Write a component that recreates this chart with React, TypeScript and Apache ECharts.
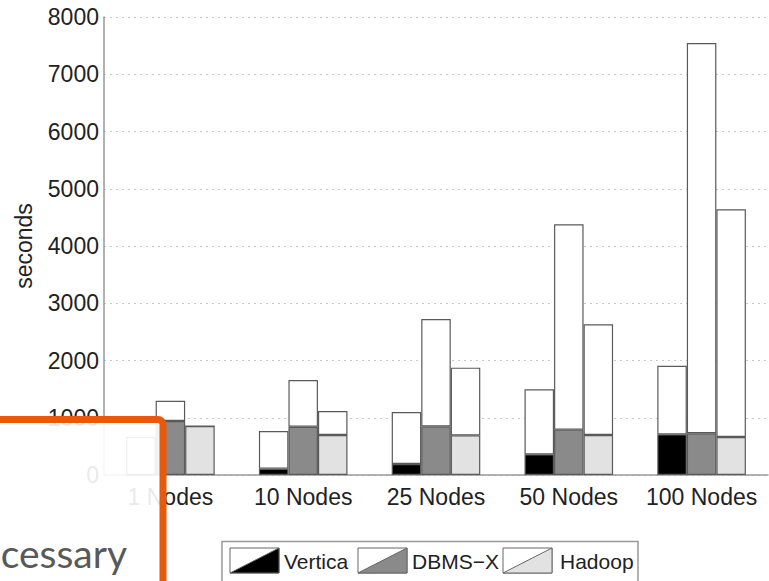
import React, { useEffect, useRef } from "react";
import * as echarts from "echarts";

const categories = ["1 Nodes", "10 Nodes", "25 Nodes", "50 Nodes", "100 Nodes"];
const verticaBase = [0, 110, 192, 361, 710];
const verticaTotal = [669, 768, 1100, 1497, 1909];
const dbmsBase = [943, 844, 850, 792, 728];
const dbmsTotal = [1298, 1659, 2725, 4379, 7546];
const hadoopBase = [856, 699, 693, 699, 664];
const hadoopTotal = [856, 1118, 1875, 2632, 4641];
const yTicks = { min: 0, max: 8000, interval: 1000 };
const legendNames = ["Vertica", "DBMS\u2212X", "Hadoop"];
const systemColors = ["#000000", "#8a8a8a", "#e2e2e2"];

const FONT = "'Liberation Sans', Arial, Helvetica, sans-serif";
const BORDER = "#5a5a5a";

export default function App() {
  const ref = useRef<HTMLDivElement>(null);
  useEffect(() => {
    if (!ref.current) return;
    const chart = echarts.init(ref.current, null, { renderer: "svg" });
    const bases = [verticaBase, dbmsBase, hadoopBase];
    const totals = [verticaTotal, dbmsTotal, hadoopTotal];
    const series: any[] = [];
    bases.forEach((b, i) => {
      series.push({
        name: legendNames[i],
        type: "bar",
        stack: "s" + i,
        data: b,
        barGap: "0%",
        barCategoryGap: "33.3%",
        itemStyle: { color: systemColors[i], borderColor: BORDER, borderWidth: 1.2 },
        emphasis: { disabled: true },
      });
      series.push({
        name: legendNames[i] + " rest",
        type: "bar",
        stack: "s" + i,
        data: totals[i].map((t, k) => t - b[k]),
        barGap: "0%",
        barCategoryGap: "33.3%",
        itemStyle: { color: "#ffffff", borderColor: BORDER, borderWidth: 1.2 },
        emphasis: { disabled: true },
      });
    });

    const legendItems: any[] = [
      {
        type: "rect",
        z: 50,
        shape: { x: 222, y: 541.5, width: 416, height: 45 },
        style: { fill: "#ffffff", stroke: "#999", lineWidth: 1.5 },
      },
    ];
    const iconX = [230, 358, 503];
    const textX = [284, 412, 560];
    legendNames.forEach((n, i) => {
      legendItems.push({
        type: "rect",
        z: 51,
        shape: { x: iconX[i], y: 548, width: 49, height: 25 },
        style: { fill: "#ffffff", stroke: "#666", lineWidth: 1 },
      });
      legendItems.push({
        type: "polygon",
        z: 52,
        shape: { points: [[iconX[i], 573], [iconX[i] + 49, 548], [iconX[i] + 49, 573]] },
        style: { fill: systemColors[i], stroke: "#666", lineWidth: 1 },
      });
      legendItems.push({
        type: "text",
        z: 52,
        x: textX[i],
        y: 561,
        style: { text: n, fontSize: 21, fontFamily: FONT, fill: "#222", verticalAlign: "middle" },
      });
    });

    chart.setOption({
      animation: false,
      grid: { left: 104, right: 1, top: 17, bottom: 106, containLabel: false },
      xAxis: {
        type: "category",
        data: categories,
        axisLine: { lineStyle: { color: "#999", width: 1.5 } },
        axisTick: { show: false },
        axisLabel: { fontSize: 23, fontFamily: FONT, color: "#222", margin: 10, interval: 0 },
      },
      yAxis: {
        type: "value",
        ...yTicks,
        name: "seconds",
        nameLocation: "middle",
        nameRotate: 90,
        nameGap: 69,
        nameTextStyle: { fontSize: 23, fontFamily: FONT, color: "#222" },
        axisLine: { show: true, lineStyle: { color: "#999", width: 1.5 } },
        axisTick: { show: false },
        axisLabel: {
          fontSize: 23,
          fontFamily: FONT,
          color: "#222",
          margin: 5,
          formatter: (v: number) => String(v),
        },
        splitLine: { lineStyle: { color: "#c8c8c8", type: [2, 4], width: 1 } },
      },
      series,
      graphic: [
        ...legendItems,
        {
          type: "rect",
          z: 100,
          shape: { x: -20, y: 419.5, width: 183, height: 200, r: 5 },
          style: { fill: "rgba(255,255,255,0.9)", stroke: "#E8590C", lineWidth: 7 },
        },
        {
          type: "text",
          z: 101,
          x: 127,
          y: 553,
          style: {
            text: "cessary",
            fontSize: 39,
            fontFamily: "Lato, 'Open Sans', sans-serif",
            fill: "#595959",
            align: "right",
            verticalAlign: "middle",
          },
        },
      ],
    });
    return () => chart.dispose();
  }, []);
  return <div ref={ref} style={{ width: 769, height: 581, position: "absolute", left: 0, top: 0 }} />;
}
